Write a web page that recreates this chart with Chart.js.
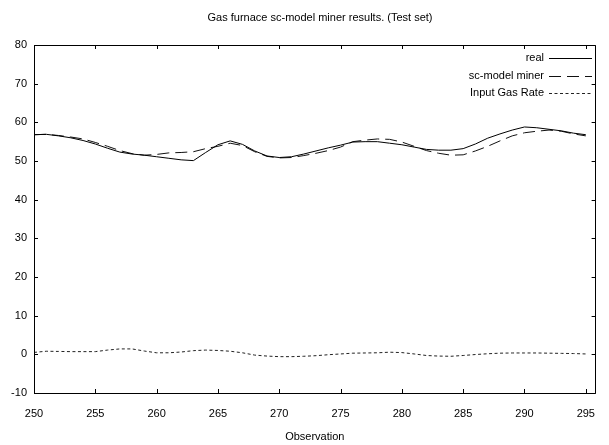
<!DOCTYPE html>
<html>
<head>
<meta charset="utf-8">
<script src="https://cdn.jsdelivr.net/npm/chart.js@4/dist/chart.umd.min.js"></script>
<style>
  html, body { margin: 0; padding: 0; background: #fff; }
  #wrap { width: 609px; height: 445px; position: relative; }
</style>
</head>
<body>
<div id="wrap"><canvas id="c" width="609" height="445"></canvas></div>
<script>
const chartTitle = "Gas furnace sc-model miner results. (Test set)";
const xAxisTitle = "Observation";
const observations = [250,251,252,253,254,255,256,257,258,259,260,261,262,263,264,265,266,267,268,269,270,271,272,273,274,275,276,277,278,279,280,281,282,283,284,285,286,287,288,289,290,291,292,293,294,295];
const realValues = [56.8,56.9,56.5,56.0,55.3,54.4,53.3,52.3,51.8,51.5,51.1,50.7,50.3,50.1,52.2,54.2,55.2,54.3,52.6,51.3,50.9,51.1,51.8,52.6,53.4,54.1,54.9,55.0,55.0,54.6,54.2,53.6,53.0,52.8,52.8,53.2,54.4,55.9,57.0,58.0,58.8,58.6,58.2,57.8,57.2,56.8];
const modelValues = [56.8,56.9,56.6,56.2,55.7,54.8,53.8,52.7,51.9,51.5,51.7,52.1,52.2,52.4,53.2,53.8,54.6,54.0,52.4,51.2,50.8,50.9,51.4,52.0,52.7,53.6,55.0,55.4,55.7,55.6,54.9,53.8,52.7,52.0,51.5,51.6,52.6,53.8,55.2,56.5,57.3,57.7,58.0,57.7,57.0,56.5];
const gasValues = [0.5,0.8,0.75,0.7,0.7,0.7,1.1,1.4,1.4,0.85,0.4,0.4,0.6,0.95,1.1,1.0,0.8,0.4,-0.2,-0.45,-0.6,-0.6,-0.5,-0.35,-0.1,0.1,0.3,0.35,0.4,0.55,0.45,0.1,-0.3,-0.45,-0.5,-0.3,-0.05,0.15,0.3,0.35,0.35,0.35,0.3,0.25,0.2,0.1];
const xTickValues = [250,255,260,265,270,275,280,285,290,295];
const yTickValues = [-10,0,10,20,30,40,50,60,70,80];
const seriesLabels = ["real", "sc-model miner", "Input Gas Rate"];

const FONT = "'Liberation Sans', Arial, sans-serif";
const pts = arr => arr.map((v, i) => ({ x: observations[i], y: v }));

const framePlugin = {
  id: 'frameTicks',
  afterDraw(chart) {
    const ctx = chart.ctx, a = chart.chartArea;
    const xs = chart.scales.x, ys = chart.scales.y;
    ctx.save();
    ctx.strokeStyle = '#000';
    ctx.lineWidth = 1;
    ctx.beginPath();
    ctx.rect(Math.round(a.left) + 0.5, Math.round(a.top) + 0.5, Math.round(a.right - a.left) - 1, Math.round(a.bottom - a.top));
    ctx.stroke();
    const tl = 4;
    ctx.beginPath();
    xTickValues.forEach(v => {
      const px = Math.round(xs.getPixelForValue(v)) + 0.5;
      ctx.moveTo(px, a.bottom); ctx.lineTo(px, a.bottom - tl);
      ctx.moveTo(px, a.top); ctx.lineTo(px, a.top + tl);
    });
    yTickValues.forEach(v => {
      const py = Math.round(ys.getPixelForValue(v)) + 0.5;
      ctx.moveTo(a.left, py); ctx.lineTo(a.left + tl, py);
      ctx.moveTo(a.right, py); ctx.lineTo(a.right - tl, py);
    });
    ctx.stroke();
    // title
    ctx.fillStyle = '#000';
    ctx.font = '11px ' + FONT;
    ctx.textAlign = 'center';
    ctx.textBaseline = 'middle';
    ctx.fillText(chartTitle, 320, 18);
    // legend
    ctx.textAlign = 'right';
    chart.data.datasets.forEach((ds, i) => {
      const y = 58 + i * 17.5;
      ctx.fillStyle = '#000';
      ctx.fillText(ds.label, 544, y);
      ctx.beginPath();
      ctx.setLineDash(ds.borderDash || []);
      ctx.strokeStyle = ds.borderColor;
      ctx.lineWidth = 1;
      ctx.moveTo(549, Math.round(y) + 0.5);
      ctx.lineTo(592, Math.round(y) + 0.5);
      ctx.stroke();
    });
    ctx.restore();
  }
};

new Chart(document.getElementById('c'), {
  type: 'line',
  data: {
    datasets: [
      { label: seriesLabels[0], data: pts(realValues), borderColor: '#000', borderWidth: 1, pointRadius: 0, tension: 0, fill: false },
      { label: seriesLabels[1], data: pts(modelValues), borderColor: '#111', borderWidth: 1, borderDash: [12, 6], pointRadius: 0, tension: 0, fill: false },
      { label: seriesLabels[2], data: pts(gasValues), borderColor: '#222', borderWidth: 1, borderDash: [3, 2.5], pointRadius: 0, tension: 0, fill: false }
    ]
  },
  options: {
    responsive: false,
    animation: false,
    devicePixelRatio: 1,
    layout: { padding: { left: 0, right: 1, top: 45, bottom: 0 } },
    plugins: { legend: { display: false }, title: { display: false }, tooltip: { enabled: false } },
    scales: {
      x: {
        type: 'linear', min: 250, max: 295.8,
        afterFit(s) { s.height = 52; },
        afterBuildTicks(s) { s.ticks = xTickValues.map(v => ({ value: v })); },
        grid: { display: false, drawTicks: false },
        border: { display: false },
        ticks: { color: '#000', font: { family: FONT, size: 11 }, padding: 14, maxRotation: 0, autoSkip: false },
        title: { display: true, text: xAxisTitle, color: '#000', font: { family: FONT, size: 11 }, padding: { top: 0, bottom: 1 } }
      },
      y: {
        min: -10, max: 80,
        afterFit(s) { s.width = 34; },
        afterBuildTicks(s) { s.ticks = yTickValues.map(v => ({ value: v })); },
        grid: { display: false, drawTicks: false },
        border: { display: false },
        ticks: { color: '#000', font: { family: FONT, size: 11 }, padding: 7 }
      }
    }
  },
  plugins: [framePlugin]
});
</script>
</body>
</html>
